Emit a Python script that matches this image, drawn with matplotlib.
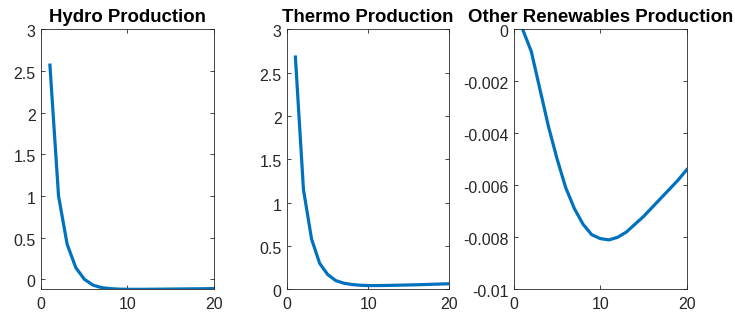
import matplotlib
matplotlib.use("Agg")
import matplotlib.pyplot as plt
import matplotlib.transforms as mtransforms

periods = list(range(1, 21))
hydro = [2.57, 1.00, 0.42, 0.14, 0.00, -0.07, -0.10, -0.112, -0.118, -0.12,
         -0.12, -0.12, -0.119, -0.118, -0.117, -0.116, -0.115, -0.114, -0.113, -0.112]
thermo = [2.68, 1.15, 0.58, 0.30, 0.17, 0.10, 0.07, 0.055, 0.047, 0.043,
          0.043, 0.044, 0.046, 0.048, 0.050, 0.052, 0.055, 0.058, 0.061, 0.064]
other = [0.0, -0.00085, -0.0023, -0.00375, -0.0050, -0.0061, -0.0069, -0.0075, -0.0079, -0.00805,
         -0.0081, -0.0080, -0.0078, -0.0075, -0.0072, -0.00685, -0.0065, -0.00615, -0.0058, -0.0054]

titles = ["Hydro Production", "Thermo Production", "Other Renewables Production"]
series = [hydro, thermo, other]
ylims = [(-0.12, 3), (0, 3), (-0.01, 0)]
yticks = [[0, 0.5, 1, 1.5, 2, 2.5, 3], [0, 0.5, 1, 1.5, 2, 2.5, 3],
          [-0.01, -0.008, -0.006, -0.004, -0.002, 0]]
ylabels = [["0", "0.5", "1", "1.5", "2", "2.5", "3"], ["0", "0.5", "1", "1.5", "2", "2.5", "3"],
           ["-0.01", "-0.008", "-0.006", "-0.004", "-0.002", "0"]]
xticks = [0, 10, 20]

plt.rcParams['font.family'] = ['Liberation Sans', 'DejaVu Sans']
W, H = 735, 320
fig = plt.figure(figsize=(W / 100, H / 100), dpi=100)
boxes = [(41.3, 213.7), (287.3, 449.0), (514.0, 686.7)]
top, bottom = 29.3, 289.3
grey = "#262626"
down = mtransforms.ScaledTranslation(0, -2 / 100, fig.dpi_scale_trans)
for (l, r), t, s, yl, yt, ylb in zip(boxes, titles, series, ylims, yticks, ylabels):
    ax = fig.add_axes([l / W, 1 - bottom / H, (r - l) / W, (bottom - top) / H])
    ax.plot(periods, s, color="#0072BD", lw=2.3)
    ax.set_xlim(0, 20)
    ax.set_ylim(*yl)
    ax.set_xticks(xticks)
    ax.set_xticklabels([str(v) for v in xticks])
    ax.set_yticks(yt)
    ax.set_yticklabels(ylb)
    ax.tick_params(direction="in", length=3, width=0.6, top=True, right=True,
                   labelsize=11.5, colors=grey)
    ax.tick_params(axis="x", pad=5.5)
    ax.tick_params(axis="y", pad=4)
    for lab in ax.get_yticklabels():
        lab.set_transform(lab.get_transform() + down)
    for sp in ax.spines.values():
        sp.set_linewidth(0.6)
        sp.set_color(grey)
    ax.set_title(t, fontsize=13.4, fontweight="bold", pad=5)

fig.savefig("out.png", dpi=100)
